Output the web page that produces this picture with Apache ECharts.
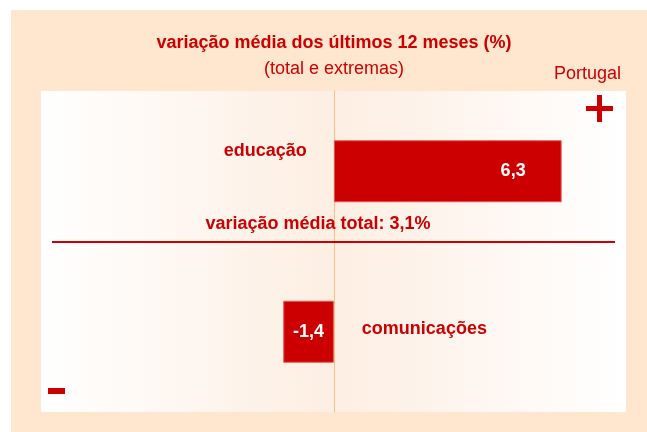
<!DOCTYPE html>
<html>
<head>
<meta charset="utf-8">
<script src="https://cdn.jsdelivr.net/npm/echarts@6/dist/echarts.min.js"></script>
<style>
  body { margin: 0; background: #fff; }
  #chart { width: 647px; height: 432px; }
</style>
</head>
<body>
<div id="chart"></div>
<script>
// categories bottom -> top
const categories = ['comunicações', 'educação'];
const values = [-1.4, 6.3];
const totalAverage = 3.1;

const RED = '#cc0000';
const FONT = '"Liberation Sans", Arial, sans-serif';

const fmt = v => String(v).replace('.', ',');

let chart = echarts.init(document.getElementById('chart'));

const option = {
  animation: false,
  grid: {
    left: 41,
    top: 91,
    width: 585,
    height: 321,
    show: true,
    borderWidth: 0,
    backgroundColor: new echarts.graphic.LinearGradient(0, 0, 1, 0, [
      { offset: 0, color: '#ffffff' },
      { offset: 0.5, color: '#fdeee2' },
      { offset: 1, color: '#ffffff' }
    ])
  },
  xAxis: {
    type: 'value',
    min: -8.1,
    max: 8.08,
    axisLine: { show: false },
    axisTick: { show: false },
    axisLabel: { show: false },
    splitLine: { show: false }
  },
  yAxis: {
    type: 'category',
    data: categories,
    axisLine: { show: true, onZero: true, lineStyle: { color: '#f6c08e', width: 1 } },
    axisTick: { show: false },
    axisLabel: { show: false },
    splitLine: { show: false }
  },
  series: [
    {
      type: 'bar',
      barWidth: 62,
      data: values.map(v => ({
        value: v,
        label: {
          show: true,
          position: v >= 0 ? 'insideRight' : 'inside',
          distance: 36,
          formatter: p => fmt(p.value),
          color: '#ffffff',
          fontFamily: FONT,
          fontSize: 18,
          fontWeight: 'bold'
        }
      })),
      itemStyle: { color: RED, borderColor: '#e05a50', borderWidth: 1 }
    },
    {
      // category names next to the zero line
      type: 'scatter',
      symbolSize: 0,
      silent: true,
      itemStyle: { opacity: 1 },
      data: categories.map((c, i) => ({
        value: [0, c],
        label: {
          show: true,
          position: values[i] >= 0 ? 'left' : 'right',
          distance: values[i] >= 0 ? 27 : 28,
          offset: values[i] >= 0 ? [0, -20] : [0, -3],
          formatter: c,
          color: RED,
          opacity: 1,
          fontFamily: FONT,
          fontSize: 18,
          fontWeight: 'bold'
        }
      }))
    }
  ],
  graphic: [
    { type: 'rect', z: -10, shape: { x: 11, y: 10, width: 636, height: 422 }, style: { fill: '#fee6cf' } },
    { type: 'text', x: 334, y: 43, style: { text: 'variação média dos últimos 12 meses (%)', font: 'bold 18px ' + FONT, fill: RED, textAlign: 'center', textVerticalAlign: 'middle' } },
    { type: 'text', x: 334, y: 69, style: { text: '(total e extremas)', font: '18px ' + FONT, fill: RED, textAlign: 'center', textVerticalAlign: 'middle' } },
    { type: 'text', x: 621, y: 74, style: { text: 'Portugal', font: '18px ' + FONT, fill: RED, textAlign: 'right', textVerticalAlign: 'middle' } },
    { type: 'text', x: 318, y: 224, z: 10, style: { text: 'variação média total: ' + fmt(totalAverage) + '%', font: 'bold 18px ' + FONT, fill: RED, textAlign: 'center', textVerticalAlign: 'middle' } },
    { type: 'line', z: 10, shape: { x1: 52, y1: 242, x2: 615, y2: 242 }, style: { stroke: RED, lineWidth: 2 } },
    // plus / minus signs
    { type: 'rect', z: 10, shape: { x: 586, y: 106, width: 27, height: 5 }, style: { fill: RED } },
    { type: 'rect', z: 10, shape: { x: 597, y: 95, width: 5, height: 27 }, style: { fill: RED } },
    { type: 'rect', z: 10, shape: { x: 48, y: 388, width: 17, height: 6 }, style: { fill: RED } }
  ]
};
chart.setOption(option);
</script>
</body>
</html>
